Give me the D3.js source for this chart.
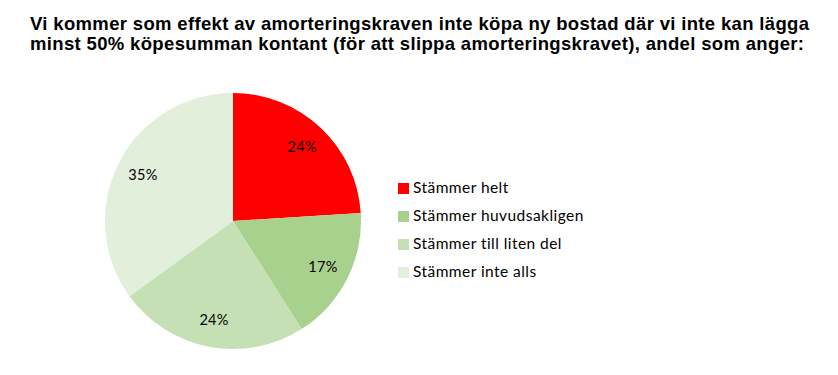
<!DOCTYPE html>
<html>
<head>
<meta charset="utf-8">
<script src="https://cdn.jsdelivr.net/npm/d3@7"></script>
<style>
  body { margin: 0; background: #fff; }
  svg { display: block; }
  .title { font-family: "Liberation Sans", Arial, sans-serif; font-weight: bold; font-size: 18.5px; fill: #000; }
  .lbl { font-family: Lato, "Open Sans", sans-serif; font-size: 14.5px; letter-spacing: 0.3px; fill: #000; }
  .leg { font-family: Lato, "Open Sans", sans-serif; font-size: 15.5px; letter-spacing: 0.45px; fill: #000; }
</style>
</head>
<body>
<div id="chart"></div>
<script>
// chart data
var categories = ["Stämmer helt", "Stämmer huvudsakligen", "Stämmer till liten del", "Stämmer inte alls"];
var values = [24, 17, 24, 35];
var colors = ["#ff0000", "#a9d18e", "#c5e0b4", "#e2efda"];
var titleLines = [
  "Vi kommer som effekt av amorteringskraven inte köpa ny bostad där vi inte kan lägga",
  "minst 50% köpesumman kontant (för att slippa amorteringskravet), andel som anger:"
];
var titleWidths = [779, 774];

var width = 838, height = 375;
var cx = 233, cy = 221, radius = 128;

var svg = d3.select("#chart").append("svg")
  .attr("width", width)
  .attr("height", height);

// title, stretched to the reference line widths
svg.selectAll(".title")
  .data(titleLines)
  .enter().append("text")
  .attr("class", "title")
  .attr("x", 30)
  .attr("y", function (d, i) { return 30 + i * 20; })
  .attr("textLength", function (d, i) { return titleWidths[i]; })
  .attr("lengthAdjust", "spacing")
  .text(function (d) { return d; });

var pie = d3.pie().sort(null).value(function (d) { return d; });
var arc = d3.arc().innerRadius(0).outerRadius(radius);
var labelArc = d3.arc().innerRadius(101).outerRadius(101);

var g = svg.append("g").attr("transform", "translate(" + cx + "," + cy + ")");
var arcs = pie(values);

g.selectAll("path")
  .data(arcs)
  .enter().append("path")
  .attr("d", arc)
  .attr("fill", function (d, i) { return colors[i]; });

g.selectAll(".lbl")
  .data(arcs)
  .enter().append("text")
  .attr("class", "lbl")
  .attr("transform", function (d) { return "translate(" + labelArc.centroid(d) + ")"; })
  .attr("text-anchor", "middle")
  .attr("dy", "0.35em")
  .text(function (d) { return d.data + "%"; });

// legend
var legend = svg.append("g").attr("transform", "translate(398,188)");
var rowY = d3.scaleBand().domain(d3.range(categories.length)).range([0, categories.length * 28]);

var items = legend.selectAll(".item")
  .data(categories)
  .enter().append("g")
  .attr("transform", function (d, i) { return "translate(0," + rowY(i) + ")"; });

items.append("rect")
  .attr("x", 0)
  .attr("y", -5)
  .attr("width", 11)
  .attr("height", 11)
  .attr("fill", function (d, i) { return colors[i]; });

items.append("text")
  .attr("class", "leg")
  .attr("x", 15)
  .attr("dy", "0.35em")
  .text(function (d) { return d; });
</script>
</body>
</html>
